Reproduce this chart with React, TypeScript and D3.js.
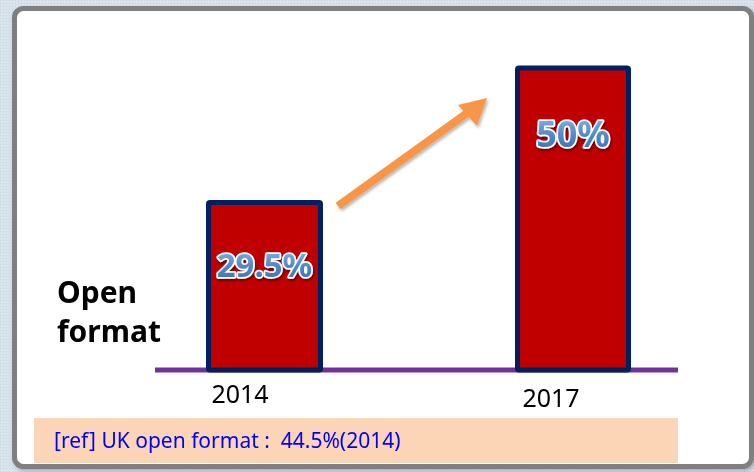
import React from "react";
import * as d3 from "d3";

const years = ["2014", "2017"];
const values = [29.5, 50];
const valueLabels = ["29.5%", "50%"];
const titleLines = ["Open", "format"];
const refNote = "[ref] UK open format :  44.5%(2014)";

const W = 754;
const H = 472;

export default function App() {
  const x = d3.scaleOrdinal<string, number>().domain(years).range([264.5, 573]);
  const y = d3.scaleLinear().domain([4, 50]).range([370, 68]);
  const barW = [112, 111];
  const labelSize = [33, 36];
  const labelY = [277, 147];
  const yearX = [240, 551];
  const yearY = [403, 407];

  const font = "'Noto Sans', 'Open Sans', sans-serif";

  return (
    <svg
      width={W}
      height={H}
      style={{ position: "fixed", left: 0, top: 0, display: "block" }}
      fontFamily={font}
    >
      <defs>
        <pattern id="dots" width="3" height="3" patternUnits="userSpaceOnUse">
          <rect width="3" height="3" fill="#d9e3ec" />
          <rect width="1" height="1" fill="#c7d3df" />
        </pattern>
        <linearGradient id="labelGrad" x1="0" y1="0" x2="0" y2="1">
          <stop offset="0%" stopColor="#9dc3e6" />
          <stop offset="55%" stopColor="#4f87c7" />
          <stop offset="100%" stopColor="#2e6db4" />
        </linearGradient>
        <filter id="txtShadow" x="-20%" y="-20%" width="140%" height="160%">
          <feDropShadow dx="1" dy="2" stdDeviation="1.2" floodColor="#4a0000" floodOpacity="0.7" />
        </filter>
        <filter id="arrowShadow" x="-20%" y="-20%" width="140%" height="140%">
          <feDropShadow dx="1.5" dy="2" stdDeviation="1.5" floodColor="#000" floodOpacity="0.3" />
        </filter>
        <filter id="panelShadow" x="-5%" y="-5%" width="110%" height="110%">
          <feDropShadow dx="2" dy="2" stdDeviation="2" floodColor="#000" floodOpacity="0.25" />
        </filter>
      </defs>

      <rect x={0} y={0} width={W} height={H} fill="url(#dots)" />
      <rect
        x={14.5}
        y={8.5}
        width={737}
        height={458}
        rx={9}
        fill="#ffffff"
        stroke="#7f7f7f"
        strokeWidth={5}
        filter="url(#panelShadow)"
      />

      {/* baseline */}
      <line x1={155} x2={678} y1={370} y2={370} stroke="#7030a0" strokeWidth={5} />

      {/* bars */}
      {years.map((yr, i) => (
        <rect
          key={yr}
          x={x(yr) - barW[i] / 2}
          y={y(values[i])}
          width={barW[i]}
          height={y(4) - y(values[i])}
          fill="#c00000"
          stroke="#002060"
          strokeWidth={5}
          rx={1.5}
        />
      ))}

      {/* arrow */}
      <g filter="url(#arrowShadow)">
        <line x1={338} y1={206} x2={470} y2={111} stroke="#f79646" strokeWidth={8} />
        <path d="M487,98 L458,105 L477,126 Z" fill="#f79646" />
      </g>

      {/* value labels */}
      {years.map((yr, i) => (
        <text
          key={"v" + yr}
          x={x(yr)}
          y={labelY[i]}
          textAnchor="middle"
          fontSize={labelSize[i]}
          fontWeight="bold"
          fill="url(#labelGrad)"
          stroke="#ffffff"
          strokeWidth={3.5}
          strokeLinejoin="round"
          paintOrder="stroke"
          filter="url(#txtShadow)"
        >
          {valueLabels[i]}
        </text>
      ))}

      {/* year labels */}
      {years.map((yr, i) => (
        <text key={"y" + yr} x={yearX[i]} y={yearY[i]} textAnchor="middle" fontSize={25} fill="#000">
          {yr}
        </text>
      ))}

      {/* title */}
      {titleLines.map((t, i) => (
        <text key={t} x={57} y={303 + i * 39} fontSize={30} fontWeight="bold" fill="#000">
          {t}
        </text>
      ))}

      {/* ref note */}
      <rect x={34} y={418} width={644} height={45} fill="#fbd5b5" />
      <text x={54} y={448} fontSize={21} fill="#0000ff" style={{ whiteSpace: "pre" }}>
        {refNote}
      </text>
    </svg>
  );
}
